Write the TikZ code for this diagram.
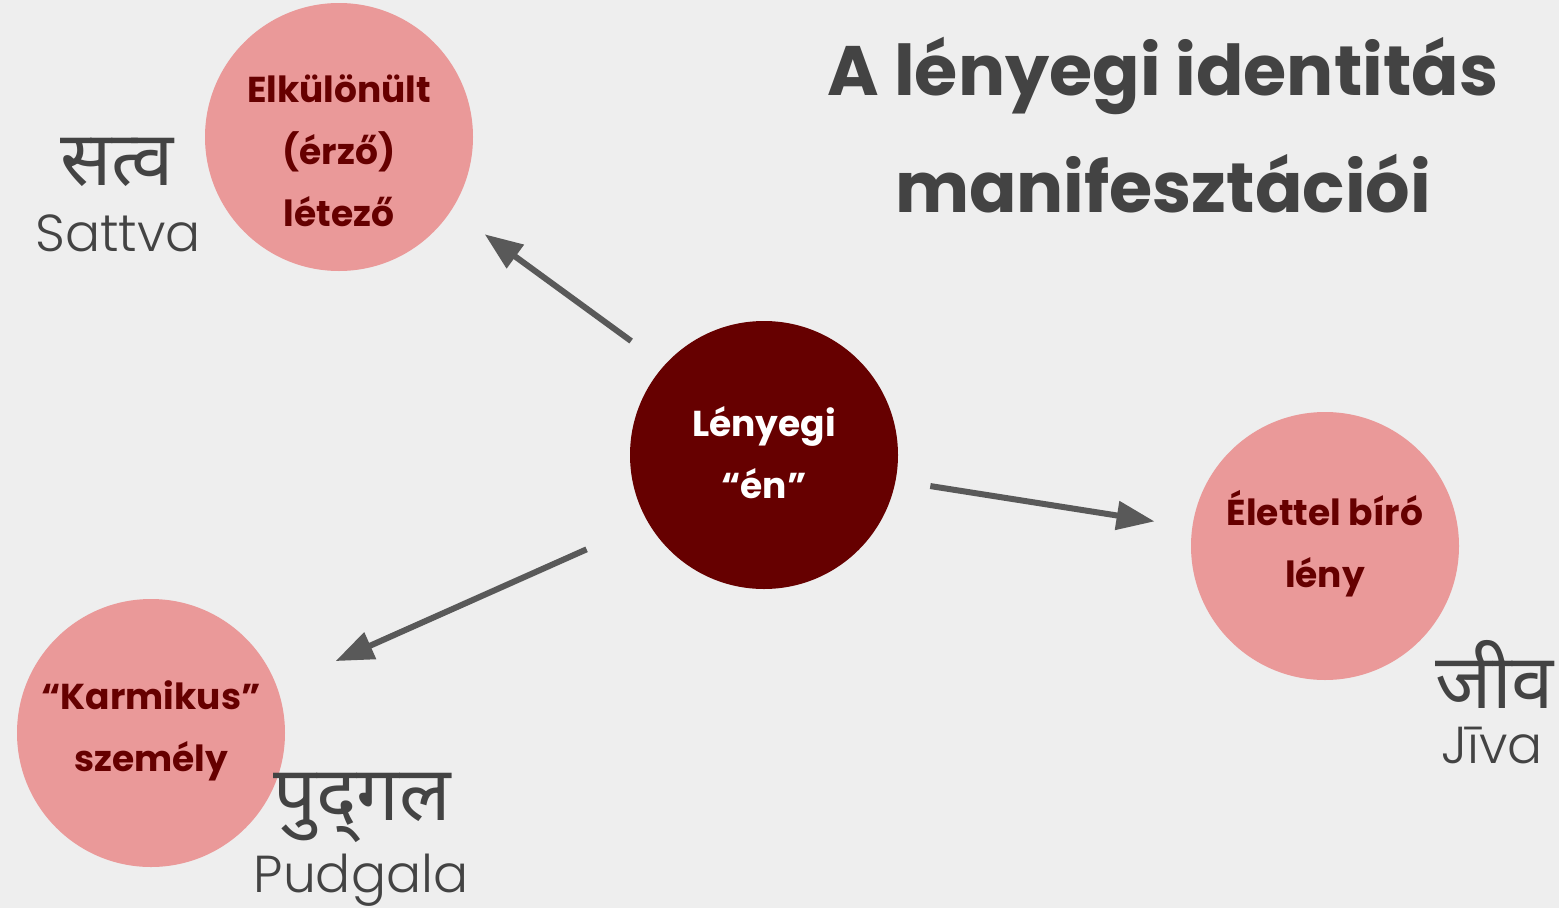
\documentclass[tikz,border=0pt]{standalone}
\usepackage{fontspec}
\setmainfont{Poppins}
\newfontfamily\devfont[Script=Devanagari]{Noto Sans}
\IfFontExistsTF{Poppins Light}{\newfontfamily\lightfont{Poppins Light}}{\newfontfamily\lightfont{Poppins}}
\usetikzlibrary{arrows.meta,positioning}

\definecolor{bgcol}{HTML}{EEEEEE}
\definecolor{rosefill}{HTML}{EA9999}
\definecolor{maroon}{HTML}{660000}
\definecolor{ink}{HTML}{434343}
\definecolor{arrowcol}{HTML}{595959}

\begin{document}
\begin{tikzpicture}[
    x=1pt, y=-1pt,
    bubble/.style={circle, fill=rosefill, minimum size=268pt, inner sep=0pt},
    core/.style={bubble, fill=maroon},
    bubbletext/.style={align=center, text=maroon, font=\fontsize{36}{62}\selectfont\bfseries},
    coretext/.style={bubbletext, text=white},
    title/.style={align=center, text=ink, font=\fontsize{70}{117}\selectfont\bfseries},
    skt/.style={text=ink, inner sep=0pt, font=\devfont\fontsize{76}{76}\selectfont},
    roman/.style={text=ink, inner sep=0pt, font=\lightfont\fontsize{52}{52}\selectfont},
    arrow/.style={line width=6pt, draw=arrowcol, arrows={-Triangle[length=38pt, width=28pt]}}
]
% background
\fill[bgcol] (0,0) rectangle (1559,908);
\useasboundingbox (0,0) rectangle (1559,908);

% title
\node[title] (title) at (1163,125) {A lényegi identitás\\manifesztációi};

% centre
\node[core] (self) at (764,455) {};
\node[coretext] (selftext) at (764,453) {Lényegi\\“én”};

% Sattva
\node[bubble] (sattva) at (339,137) {};
\node[bubbletext] (sattvatext) at (339,151) {Elkülönült\\(érző)\\létező};
\node[skt] (sattvadev) at (117,162) {सत्व};
\node[roman] (sattvarom) at (118,233) {Sattva};

% Jiva
\node[bubble] (jiva) at (1325,546) {};
\node[bubbletext] (jivatext) at (1325,544) {Élettel bíró\\lény};
\node[skt] (jivadev) at (1495,674) {जीव};
\node[roman] (jivarom) at (1492,745) {Jīva};

% Pudgala
\node[bubble] (pudgala) at (151,733) {};
\node[bubbletext] (pudgalatext) at (151,731) {“Karmikus”\\személy};
\node[skt] (pudgaladev) at (362,808) {पुद्^^^^200cगल};
\node[roman] (pudgalarom) at (361,880) {Pudgala};

% arrows
\draw[arrow, shorten <=41pt, shorten >=41pt] (self.138) -- (sattva.327);
\draw[arrow, shorten <=35pt, shorten >=38pt] (self.349) -- (jiva.172);
\draw[arrow, shorten <=67pt, shorten >=64pt] (self.210) -- (pudgala.20);
\end{tikzpicture}
\end{document}
